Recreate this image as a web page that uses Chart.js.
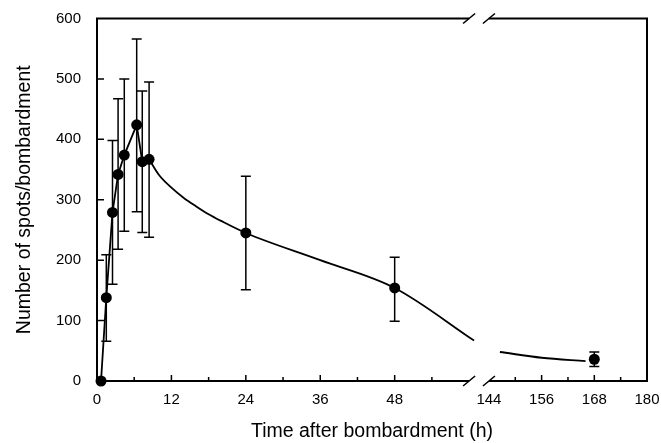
<!DOCTYPE html>
<html>
<head>
<meta charset="utf-8">
<title>Number of spots per bombardment</title>
<script src="https://cdn.jsdelivr.net/npm/chart.js@4.4.0/dist/chart.umd.min.js"></script>
<style>
  html, body { margin: 0; padding: 0; background: #fff; }
</style>
</head>
<body>
<canvas id="myChart" width="661" height="443"></canvas>
<script>

// mean values with error bars (time in h)
var timeH   = [0.65, 1.5, 2.5, 3.4, 4.4, 6.4, 7.3, 8.4, 24, 48, 168];
var spots   = [0, 138, 279, 342, 374, 424, 363, 367, 245, 154, 36];
var errLow  = [null, 66, 160, 218, 248, 280, 246, 238, 151, 99, 24];
var errHigh = [null, 209, 398, 467, 500, 566, 480, 495, 339, 205, 48];

// first points are joined with straight segments
var riseCount = 8;

// smooth decay curve, on both sides of the break
var fitTimeLeft  = [8.4, 10, 12, 14, 16, 18, 20, 24, 36, 48, 60.8];
var fitValLeft   = [367, 341, 320, 303, 289, 276, 265, 245, 200, 154, 67];
var fitTimeRight = [146.5, 156, 166];
var fitValRight  = [48, 38.5, 33];

var yTicks      = [0, 100, 200, 300, 400, 500, 600];
var xTicksLeft  = [0, 12, 24, 36, 48];
var xTicksRight = [144, 156, 168, 180];
var xMinorLeft  = [6, 18, 30, 42, 54];
var xMinorRight = [150, 162, 174];

var fontFamily = "'Liberation Sans', Arial, Helvetica, sans-serif";

// broken x axis: 0-60 h, then 144-180 h squeezed
var leftEnd = 60, rightStart = 144, rightPos = 63.2, rightScale = 0.708;

function toAxis(t) {
    return t < 100 ? t : rightPos + (t - rightStart) * rightScale;
}

function fromAxis(u) {
    return u <= leftEnd + 1 ? u : rightStart + (u - rightPos) / rightScale;
}

function pairs(xs, ys) {
    var out = [];
    for (var i = 0; i < xs.length; i++) {
        out.push({x: toAxis(xs[i]), y: ys[i]});
    }
    return out;
}

var brokenAxis = {
    id: 'brokenAxis',
    beforeDatasetsDraw: function(chart) {
        var ctx = chart.ctx, a = chart.chartArea;
        var xs = chart.scales.x, ys = chart.scales.y;
        var bl = xs.getPixelForValue(leftEnd), br = xs.getPixelForValue(rightPos);

        ctx.save();
        ctx.strokeStyle = '#000';
        ctx.lineWidth = 2;
        ctx.beginPath();
        ctx.moveTo(a.left, a.top); ctx.lineTo(a.left, a.bottom);
        ctx.moveTo(a.right, a.top); ctx.lineTo(a.right, a.bottom);
        [a.top, a.bottom].forEach(function(y) {
            ctx.moveTo(a.left - 1, y); ctx.lineTo(bl, y);
            ctx.moveTo(br, y); ctx.lineTo(a.right + 1, y);
        });
        ctx.stroke();

        // break marks
        ctx.lineWidth = 1.6;
        ctx.beginPath();
        [a.top, a.bottom].forEach(function(y) {
            [bl, br].forEach(function(x) {
                ctx.moveTo(x - 6, y + 5); ctx.lineTo(x + 6, y - 5);
            });
        });
        ctx.stroke();

        // inward ticks
        ctx.lineWidth = 1.5;
        ctx.beginPath();
        yTicks.forEach(function(v) {
            if (v == 0 || v == 600) return;
            var y = ys.getPixelForValue(v);
            ctx.moveTo(a.left, y); ctx.lineTo(a.left + 7, y);
        });
        xTicksLeft.concat(xTicksRight).forEach(function(t) {
            if (t == 0 || t == 144 || t == 180) return;
            var x = xs.getPixelForValue(toAxis(t));
            ctx.moveTo(x, a.bottom); ctx.lineTo(x, a.bottom - 6);
        });
        xMinorLeft.concat(xMinorRight).forEach(function(t) {
            var x = xs.getPixelForValue(toAxis(t));
            ctx.moveTo(x, a.bottom); ctx.lineTo(x, a.bottom - 4);
        });
        ctx.stroke();

        // error bars
        ctx.lineWidth = 1.5;
        ctx.beginPath();
        for (var i = 0; i < timeH.length; i++) {
            if (errLow[i] == null) continue;
            var x = xs.getPixelForValue(toAxis(timeH[i]));
            var y1 = ys.getPixelForValue(errLow[i]), y2 = ys.getPixelForValue(errHigh[i]);
            ctx.moveTo(x, y1); ctx.lineTo(x, y2);
            ctx.moveTo(x - 5, y1); ctx.lineTo(x + 5, y1);
            ctx.moveTo(x - 5, y2); ctx.lineTo(x + 5, y2);
        }
        ctx.stroke();
        ctx.restore();
    }
};

var ctx = document.getElementById('myChart').getContext('2d');

var chart = new Chart(ctx, {
    type: 'scatter',
    data: {
        datasets: [{
                label: 'mean',
                data: pairs(timeH, spots),
                showLine: false,
                pointRadius: 5.5,
                pointBackgroundColor: '#000',
                pointBorderColor: '#000',
                pointBorderWidth: 0,
                clip: false
            },
            {
                label: 'rise',
                data: pairs(timeH.slice(0, riseCount), spots.slice(0, riseCount)),
                showLine: true,
                borderColor: '#000',
                borderWidth: 1.8,
                pointRadius: 0,
                tension: 0,
                clip: false
            },
            {
                label: 'fit left',
                data: pairs(fitTimeLeft, fitValLeft),
                showLine: true,
                borderColor: '#000',
                borderWidth: 1.8,
                pointRadius: 0,
                cubicInterpolationMode: 'monotone',
                clip: false
            },
            {
                label: 'fit right',
                data: pairs(fitTimeRight, fitValRight),
                showLine: true,
                borderColor: '#000',
                borderWidth: 1.8,
                pointRadius: 0,
                cubicInterpolationMode: 'monotone',
                clip: false
            }
        ]
    },
    options: {
        responsive: false,
        animation: false,
        devicePixelRatio: 1,
        layout: { padding: { left: 0, right: 14, top: 18.5, bottom: 0 } },
        plugins: {
            legend: { display: false },
            tooltip: { enabled: false }
        },
        scales: {
            x: {
                type: 'linear',
                min: 0,
                max: toAxis(180),
                grid: { display: false, drawTicks: false },
                border: { display: false },
                afterFit: function(s) {
                    s.height = 62;
                    s.paddingLeft = 0;
                    s.paddingRight = 0;
                },
                afterBuildTicks: function(s) {
                    s.ticks = xTicksLeft.concat(xTicksRight).map(function(t) { return {value: toAxis(t)}; });
                },
                ticks: {
                    autoSkip: false,
                    maxRotation: 0,
                    padding: 10,
                    color: '#000',
                    font: { family: fontFamily, size: 15 },
                    callback: function(v) { return Math.round(fromAxis(v)); }
                },
                title: {
                    display: true,
                    text: 'Time after bombardment (h)',
                    color: '#000',
                    font: { family: fontFamily, size: 19.5 },
                    padding: { top: 0, bottom: 0 }
                }
            },
            y: {
                min: 0,
                max: 600,
                grid: { display: false, drawTicks: false },
                border: { display: false },
                afterFit: function(s) {
                    s.width = 97;
                    s.paddingTop = 0;
                    s.paddingBottom = 0;
                },
                afterBuildTicks: function(s) {
                    s.ticks = yTicks.map(function(v) { return {value: v}; });
                },
                ticks: {
                    padding: 16,
                    color: '#000',
                    font: { family: fontFamily, size: 15 }
                },
                title: {
                    display: true,
                    text: 'Number of spots/bombardment',
                    color: '#000',
                    font: { family: fontFamily, size: 19.5 },
                    padding: { top: 13, bottom: 0 }
                }
            }
        }
    },
    plugins: [brokenAxis]
});
</script>
</body>
</html>
